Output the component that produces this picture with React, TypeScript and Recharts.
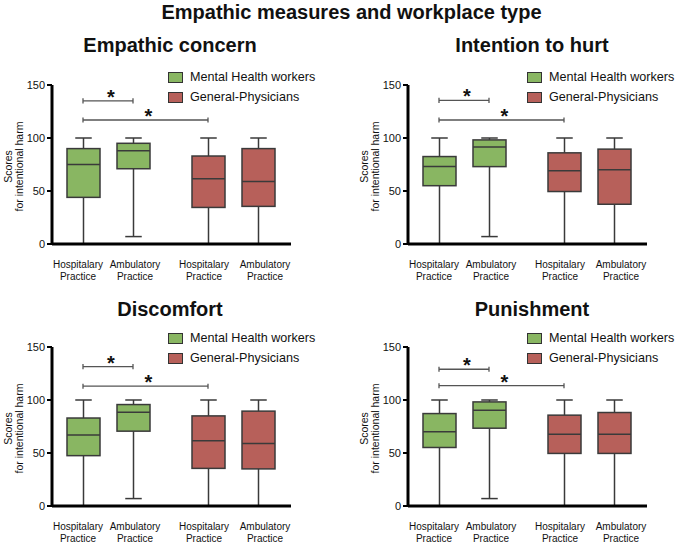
import React from 'react';
import { ComposedChart, Bar, XAxis, YAxis, ReferenceLine, Label } from 'recharts';

const FONT = '"Liberation Sans", Arial, Helvetica, sans-serif';

// ---------- data ----------
const mainTitle = 'Empathic measures and workplace type';
const categories = ['Hospitalary', 'Ambulatory', 'Hospitalary', 'Ambulatory'];
const categorySub = ['Practice', 'Practice', 'Practice', 'Practice'];
const categoryGroup = [0, 0, 1, 1];
const groupNames = ['Mental Health workers', 'General-Physicians'];
const yTicks = [0, 50, 100, 150];
const yLabelLines = ['Scores', 'for intentional harm'];
const panelTitles = ['Empathic concern', 'Intention to hurt', 'Discomfort', 'Punishment'];

// five-number summaries: [min, q1, median, q3, max]
const empathicConcern = [
  [0, 44, 75, 90, 100],
  [7, 71, 88, 95, 100],
  [0, 34.5, 61.5, 83, 100],
  [0, 35.5, 59, 90, 100],
];
const intentionToHurt = [
  [0, 55, 73, 82.5, 100],
  [7, 73, 91.5, 98.2, 100],
  [0, 49.5, 69, 86, 100],
  [0, 37.5, 70, 89.5, 100],
];
const discomfort = [
  [0, 47.5, 67, 83, 100],
  [7, 70.6, 88.5, 95.7, 100],
  [0, 35.5, 61.5, 85, 100],
  [0, 35, 59, 89.5, 100],
];
const punishment = [
  [0, 55.2, 70, 87.2, 100],
  [7, 73.4, 90.4, 98.2, 100],
  [0, 49.6, 67.8, 85.7, 100],
  [0, 49.6, 67.8, 88.2, 100],
];

// significance brackets: [fromCategoryIndex, toCategoryIndex, yValue]
const empathicBrackets = [[0, 1, 135], [0, 2, 117]];
const intentionBrackets = [[0, 1, 135.5], [0, 2, 117]];
const discomfortBrackets = [[0, 1, 131.5], [0, 2, 113]];
const punishmentBrackets = [[0, 1, 129], [0, 2, 113.5]];

// ---------- styling / layout ----------
const groupFill = ['#89b662', '#b7605a'];
const GROUP_GAP = 0.5;
const X_DOMAIN: [number, number] = [-0.62, 4.16];
const BOX_WIDTH = 33;
const TICK_LABEL_SHIFT = [-5, 2, -4, 7];

const posOf = (i: number) => i + categoryGroup[i] * GROUP_GAP;

const buildRows = (stats: number[][]) =>
  stats.map((s, i) => ({
    pos: posOf(i),
    group: categoryGroup[i],
    min: s[0],
    q1: s[1],
    median: s[2],
    q3: s[3],
    max: s[4],
  }));

const BoxShape = (props: any) => {
  const { x, y, width, height } = props;
  const p = props.payload ?? props;
  const { min, q1, median, q3, max, group } = p;
  if (height == null || !isFinite(height)) return null;
  const k = height / (max - min);
  const yOf = (v: number) => y + (max - v) * k;
  const cx = x + width / 2;
  const capHalf = width / 4;
  const stroke = '#3a3a3a';
  const sw = 1.5;
  return (
    <g>
      <line x1={cx} x2={cx} y1={yOf(max)} y2={yOf(q3)} stroke={stroke} strokeWidth={sw} />
      <line x1={cx} x2={cx} y1={yOf(q1)} y2={yOf(min)} stroke={stroke} strokeWidth={sw} />
      <line x1={cx - capHalf} x2={cx + capHalf} y1={yOf(max)} y2={yOf(max)} stroke={stroke} strokeWidth={sw} />
      {min > 0 && (
        <line x1={cx - capHalf} x2={cx + capHalf} y1={yOf(min)} y2={yOf(min)} stroke={stroke} strokeWidth={sw} />
      )}
      <rect
        x={x}
        y={yOf(q3)}
        width={width}
        height={yOf(q1) - yOf(q3)}
        fill={groupFill[group]}
        stroke={stroke}
        strokeWidth={sw}
      />
      <line x1={x} x2={x + width} y1={yOf(median)} y2={yOf(median)} stroke={stroke} strokeWidth={sw} />
    </g>
  );
};

const XTick = (props: any) => {
  const { x, y, payload } = props;
  const idx = categories.findIndex((_, i) => Math.abs(posOf(i) - payload.value) < 1e-6);
  if (idx < 0) return null;
  const tx = x + TICK_LABEL_SHIFT[idx];
  return (
    <g>
      <text x={tx} y={y + 23.5} textAnchor="middle" fontSize={10} fontFamily={FONT} fill="#111">
        {categories[idx]}
      </text>
      <text x={tx} y={y + 35.5} textAnchor="middle" fontSize={10} fontFamily={FONT} fill="#111">
        {categorySub[idx]}
      </text>
    </g>
  );
};

const YLabelContent = (props: any) => {
  const vb = props.viewBox || {};
  const cy = (vb.y ?? 65) + (vb.height ?? 159) / 2 + 2;
  const baseX = (vb.x ?? 0);
  return (
    <g>
      <text
        transform={`translate(${baseX + 10.5}, ${cy}) rotate(-90)`}
        textAnchor="middle"
        fontSize={10.5}
        fontFamily={FONT}
        fill="#111"
      >
        {yLabelLines[0]}
      </text>
      <text
        transform={`translate(${baseX + 22}, ${cy}) rotate(-90)`}
        textAnchor="middle"
        fontSize={10.5}
        fontFamily={FONT}
        fill="#111"
      >
        {yLabelLines[1]}
      </text>
    </g>
  );
};

const StarLabel = (props: any) => {
  const vb = props.viewBox || {};
  const cx = (vb.x ?? 0) + (vb.width ?? 0) / 2 + 3;
  const y = (vb.y ?? 0) + 3;
  return (
    <text x={cx} y={y} textAnchor="middle" fontSize={20} fontWeight="bold" fontFamily={FONT} fill="#111">
      *
    </text>
  );
};

const CHART_W = 336;
const CHART_H = 264;

type PanelProps = {
  left: number;
  top: number;
  title: string;
  stats: number[][];
  brackets: number[][];
  titleCx: number;
  titleTop: number;
  legendLeft: number;
  legendTop: number;
};

const Panel = ({ left, top, title, stats, brackets, titleCx, titleTop, legendLeft, legendTop }: PanelProps) => {
  const rows = buildRows(stats);
  const bracketColor = '#555';
  return (
    <div style={{ position: 'absolute', left, top, width: CHART_W, height: CHART_H }}>
      <ComposedChart
        width={CHART_W}
        height={CHART_H}
        data={rows}
        margin={{ top: 65, right: 46, bottom: 0, left: 0 }}
        style={{ overflow: 'visible' }}
      >
        <XAxis
          type="number"
          dataKey="pos"
          domain={X_DOMAIN}
          allowDataOverflow
          ticks={categories.map((_, i) => posOf(i))}
          tick={<XTick />}
          tickLine={false}
          tickSize={0}
          tickMargin={0}
          axisLine={{ stroke: '#000', strokeWidth: 3 }}
          interval={0}
          height={40}
        />
        <YAxis
          type="number"
          domain={[0, 150]}
          ticks={yTicks}
          allowDataOverflow
          width={51}
          tickSize={5}
          tickMargin={2}
          tick={{ fontSize: 11, fontFamily: FONT, fill: '#111' }}
          tickLine={{ stroke: '#000', strokeWidth: 2 }}
          axisLine={{ stroke: '#000', strokeWidth: 3 }}
        >
          <Label content={<YLabelContent />} />
        </YAxis>
        <Bar
          dataKey={(d: any) => [d.min, d.max]}
          barSize={BOX_WIDTH}
          shape={<BoxShape />}
          isAnimationActive={false}
        />
        {brackets.map((b, i) => {
          const x1 = posOf(b[0]);
          const x2 = posOf(b[1]);
          const yv = b[2];
          return (
            <React.Fragment key={`br${i}`}>
              <ReferenceLine
                segment={[{ x: x1, y: yv }, { x: x2, y: yv }]}
                stroke={bracketColor}
                strokeWidth={1.3}
                ifOverflow="visible"
                label={<StarLabel />}
              />
              <ReferenceLine
                segment={[{ x: x1, y: yv - 2.4 }, { x: x1, y: yv + 2.4 }]}
                stroke={bracketColor}
                strokeWidth={1.3}
                ifOverflow="visible"
              />
              <ReferenceLine
                segment={[{ x: x2, y: yv - 2.4 }, { x: x2, y: yv + 2.4 }]}
                stroke={bracketColor}
                strokeWidth={1.3}
                ifOverflow="visible"
              />
            </React.Fragment>
          );
        })}
      </ComposedChart>
      <div
        style={{
          position: 'absolute',
          left: titleCx - 160,
          width: 320,
          top: titleTop,
          textAlign: 'center',
          fontFamily: FONT,
          fontWeight: 'bold',
          fontSize: 20,
          lineHeight: '20px',
          color: '#111',
          whiteSpace: 'nowrap',
        }}
      >
        {title}
      </div>
      <div style={{ position: 'absolute', left: legendLeft, top: legendTop, fontFamily: FONT }}>
        {groupNames.map((g, i) => (
          <div key={g} style={{ display: 'flex', alignItems: 'center', height: 20 }}>
            <div
              style={{
                width: 13,
                height: 9,
                background: groupFill[i],
                border: '1px solid #333',
                marginRight: 7,
              }}
            />
            <span style={{ fontSize: 12.6, lineHeight: '14px', color: '#111', whiteSpace: 'nowrap' }}>{g}</span>
          </div>
        ))}
      </div>
    </div>
  );
};

export default function App() {
  return (
    <div
      style={{
        position: 'absolute',
        left: 0,
        top: 0,
        width: 675,
        height: 544,
        background: '#fff',
        overflow: 'hidden',
      }}
    >
      <div
        style={{
          position: 'absolute',
          left: 0,
          width: 675,
          top: 2,
          textAlign: 'center',
          fontFamily: FONT,
          fontWeight: 'bold',
          fontSize: 20,
          lineHeight: '20px',
          color: '#111',
          paddingLeft: 28,
          boxSizing: 'border-box',
        }}
      >
        {mainTitle}
      </div>
      <Panel left={1} top={20} title={panelTitles[0]} stats={empathicConcern} brackets={empathicBrackets}
        titleCx={169} titleTop={15} legendLeft={167} legendTop={47} />
      <Panel left={357} top={20} title={panelTitles[1]} stats={intentionToHurt} brackets={intentionBrackets}
        titleCx={175} titleTop={15} legendLeft={170} legendTop={47} />
      <Panel left={1} top={282} title={panelTitles[2]} stats={discomfort} brackets={discomfortBrackets}
        titleCx={169} titleTop={17} legendLeft={167} legendTop={46} />
      <Panel left={357} top={282} title={panelTitles[3]} stats={punishment} brackets={punishmentBrackets}
        titleCx={175} titleTop={17} legendLeft={170} legendTop={46} />
    </div>
  );
}
